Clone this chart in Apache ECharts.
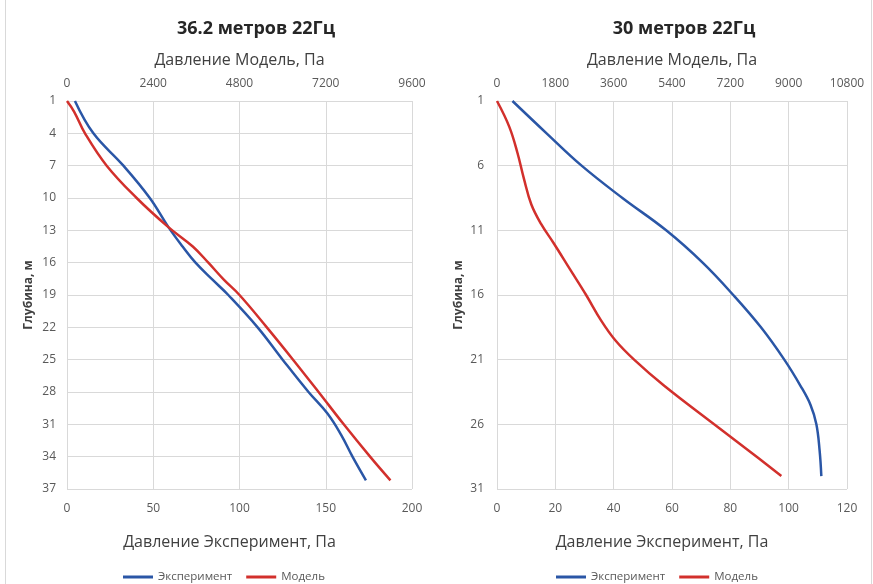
<!DOCTYPE html>
<html>
<head>
<meta charset="utf-8">
<script src="https://cdn.jsdelivr.net/npm/echarts@6/dist/echarts.min.js"></script>
<style>
html,body{margin:0;padding:0;background:#fff;}
#chart{width:873px;height:584px;}
</style>
</head>
<body>
<div id="chart"></div>
<script>
// ---- Data ----
const titleL = '36.2 метров 22Гц';
const titleR = '30 метров 22Гц';
const seriesNames = ['Эксперимент', 'Модель'];

// Left chart (36.2 m)
const expDepthL = [1, 4, 7, 10, 12.7, 14.5, 16, 17.6, 19, 22, 25, 28, 30, 32, 34, 36.2];
const expL      = [4.6, 15.3, 32.7, 48, 58.8, 67, 74.5, 84.5, 93.5, 110.5, 125, 140, 151, 159, 165.5, 173.3];
const modDepthL = [1, 2, 4, 7, 10, 12.7, 14.5, 16, 17.6, 19, 22, 25, 28, 31, 34, 36.2];
const modL      = [0, 200, 501, 1104, 1938, 2820, 3500, 3933, 4370, 4800, 5560, 6290, 7000, 7700, 8433, 9000];
const depthTicksL = [1, 4, 7, 10, 13, 16, 19, 22, 25, 28, 31, 34, 37];

// Right chart (30 m)
const expDepthR = [1, 3.5, 6, 8.5, 11, 13.5, 16, 18.5, 21, 23, 24.5, 26, 28, 30];
const expR      = [5.3, 17, 29, 43, 58, 70.5, 81, 90.5, 98.5, 104, 107.5, 109.5, 110.6, 111.2];
const modDepthR = [1, 3, 5, 7, 9, 10.5, 12, 14, 16, 18, 19.5, 21, 23, 26, 28, 30];
const modR      = [0, 380, 630, 830, 1060, 1360, 1750, 2250, 2750, 3220, 3650, 4230, 5150, 6700, 7750, 8774];
const depthTicksR = [1, 6, 11, 16, 21, 26, 31];

// ---- Styles ----
const FONT = 'Open Sans';
const LBL = '#595959';
const GRID = '#d9d9d9';
const BLUE = '#2a56a6';
const RED = '#d2302c';

function pairs(xs, ys) { return xs.map((x, i) => [x, ys[i]]); }
const plain = v => String(v);

function xAxisBottom(grid, max, interval) {
  return {
    type: 'value', gridIndex: grid, position: 'bottom', min: 0, max: max, interval: interval,
    name: 'Давление Эксперимент, Па', nameLocation: 'middle', nameGap: 45,
    nameTextStyle: {fontFamily: FONT, fontSize: 16, color: '#404040', padding: [0, 20, 0, 0]},
    axisLine: {show: false}, axisTick: {show: false},
    axisLabel: {fontFamily: FONT, fontSize: 12, color: LBL, margin: 14, formatter: plain},
    splitLine: {show: true, lineStyle: {color: GRID, width: 1}}
  };
}
function xAxisTop(grid, max, interval) {
  return {
    type: 'value', gridIndex: grid, position: 'top', min: 0, max: max, interval: interval,
    name: 'Давление Модель, Па', nameLocation: 'middle', nameGap: 33,
    nameTextStyle: {fontFamily: FONT, fontSize: 16, color: '#404040'},
    axisLine: {show: false}, axisTick: {show: false},
    axisLabel: {fontFamily: FONT, fontSize: 12, color: LBL, margin: 11, formatter: plain},
    splitLine: {show: false}
  };
}
function yAxisDepth(grid, min, max, ticks, gap, margin) {
  return {
    type: 'value', gridIndex: grid, inverse: true, min: min, max: max,
    name: 'Глубина, м', nameLocation: 'middle', nameGap: gap, nameRotate: 90,
    nameTextStyle: {fontFamily: FONT, fontSize: 12, fontWeight: 'bold', color: '#404040'},
    axisLine: {show: false},
    axisTick: {show: false, customValues: ticks},
    axisLabel: {fontFamily: FONT, fontSize: 12, color: LBL, margin: margin, customValues: ticks},
    splitLine: {show: true, lineStyle: {color: GRID, width: 1}}
  };
}
function lineSeries(name, color, xi, yi, data) {
  return {
    name: name, type: 'line', xAxisIndex: xi, yAxisIndex: yi, data: data,
    showSymbol: false, smooth: 0.4, lineStyle: {color: color, width: 2.5}, itemStyle: {color: color},
    animation: false
  };
}

const chart = echarts.init(document.getElementById('chart'));
chart.setOption({
  backgroundColor: '#fff',
  animation: false,
  title: [
    {text: titleL, left: 251, top: 15, textAlign: 'center',
     textStyle: {fontFamily: FONT, fontSize: 18, fontWeight: 'bold', color: '#262626'}},
    {text: titleR, left: 679, top: 15, textAlign: 'center',
     textStyle: {fontFamily: FONT, fontSize: 18, fontWeight: 'bold', color: '#262626'}}
  ],
  legend: [
    {data: seriesNames, left: 118, top: 566, itemWidth: 30, itemHeight: 3, itemGap: 14, icon: 'rect',
     textStyle: {fontFamily: FONT, fontSize: 11.5, color: LBL}},
    {data: seriesNames, left: 551, top: 566, itemWidth: 30, itemHeight: 3, itemGap: 14, icon: 'rect',
     textStyle: {fontFamily: FONT, fontSize: 11.5, color: LBL}}
  ],
  grid: [
    {left: 67, right: 461, top: 101, bottom: 95},
    {left: 497, right: 26, top: 101, bottom: 95}
  ],
  xAxis: [
    xAxisBottom(0, 200, 50),
    xAxisTop(0, 9600, 2400),
    xAxisBottom(1, 120, 20),
    xAxisTop(1, 10800, 1800)
  ],
  yAxis: [
    yAxisDepth(0, 1, 37, depthTicksL, 32, 11),
    yAxisDepth(1, 1, 31, depthTicksR, 32, 13)
  ],
  series: [
    lineSeries(seriesNames[0], BLUE, 0, 0, pairs(expL, expDepthL)),
    lineSeries(seriesNames[1], RED, 1, 0, pairs(modL, modDepthL)),
    lineSeries(seriesNames[0], BLUE, 2, 1, pairs(expR, expDepthR)),
    lineSeries(seriesNames[1], RED, 3, 1, pairs(modR, modDepthR))
  ],
  graphic: [
    {type: 'line', shape: {x1: 5.5, y1: 0, x2: 5.5, y2: 584}, style: {stroke: GRID, lineWidth: 1}},
    {type: 'line', shape: {x1: 871.5, y1: 0, x2: 871.5, y2: 584}, style: {stroke: GRID, lineWidth: 1}}
  ]
});
</script>
</body>
</html>
